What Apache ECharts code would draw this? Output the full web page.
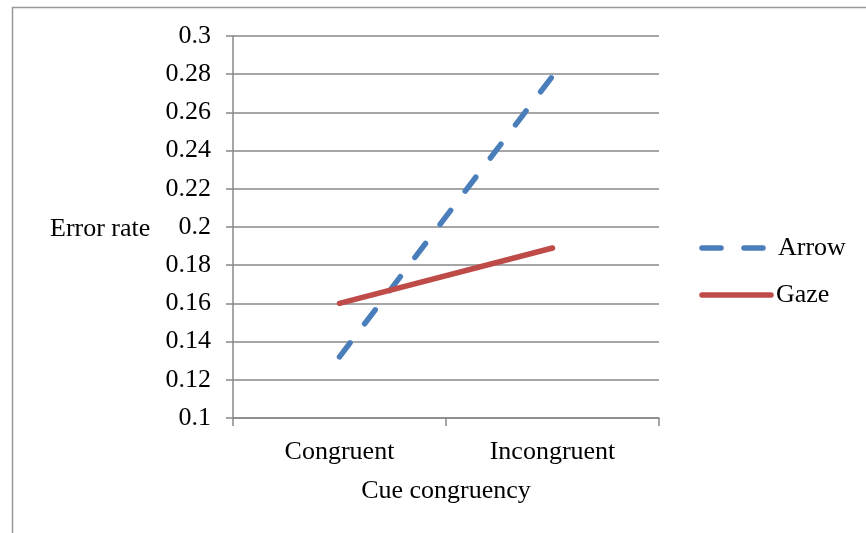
<!DOCTYPE html>
<html><head><meta charset="utf-8">
<script src="https://cdn.jsdelivr.net/npm/echarts@6/dist/echarts.min.js"></script>
<style>html,body{margin:0;padding:0;background:#fff}#c{width:866px;height:533px}</style>
</head><body><div id="c"></div>
<script>
const categories = ['Congruent', 'Incongruent'];
const seriesNames = ['Arrow', 'Gaze'];
const arrow = [0.132, 0.279];
const gaze = [0.16, 0.189];
const yTicks = [0.1, 0.3, 0.02];

const colors = ['#4a7ebb', '#be4b48'];
const chart = echarts.init(document.getElementById('c'));
const font = 'Liberation Serif';
const fs = 26;
chart.setOption({
  backgroundColor: '#fff',
  animation: false,
  textStyle: {fontFamily: font},
  graphic: [
    {type: 'polyline', shape: {points: [[12.5, 540], [12.5, 7.5], [870, 7.5]]},
     style: {stroke: '#999', lineWidth: 1.5, fill: null}, silent: true},
    {type: 'text', x: 50, y: 229, style: {text: 'Error rate', font: fs + 'px "Liberation Serif"', fill: '#000', verticalAlign: 'middle'}},
    {type: 'line', shape: {x1: 702, y1: 248, x2: 765, y2: 248},
     style: {stroke: colors[0], lineWidth: 5.5, lineDash: [19, 23], lineCap: 'round'}},
    {type: 'text', x: 778, y: 248, style: {text: seriesNames[0], font: fs + 'px "Liberation Serif"', fill: '#000', verticalAlign: 'middle'}},
    {type: 'line', shape: {x1: 702, y1: 295, x2: 771, y2: 295},
     style: {stroke: colors[1], lineWidth: 5.5, lineCap: 'round'}},
    {type: 'text', x: 776, y: 295, style: {text: seriesNames[1], font: fs + 'px "Liberation Serif"', fill: '#000', verticalAlign: 'middle'}}
  ],
  grid: {left: 233, right: 207, top: 36, bottom: 115},
  xAxis: {
    type: 'category', data: categories, boundaryGap: true,
    name: 'Cue congruency', nameLocation: 'middle', nameGap: 60,
    nameTextStyle: {fontFamily: font, fontSize: fs, color: '#000'},
    axisLine: {lineStyle: {color: '#888', width: 1.5}},
    axisTick: {show: true, alignWithLabel: false, length: 8, lineStyle: {color: '#888', width: 1.5}},
    axisLabel: {fontFamily: font, fontSize: fs, color: '#000', margin: 21}
  },
  yAxis: {
    type: 'value', min: yTicks[0], max: yTicks[1], interval: yTicks[2],
    axisLine: {show: true, lineStyle: {color: '#888', width: 1.5}},
    axisTick: {show: true, length: 7, lineStyle: {color: '#888', width: 1.5}},
    splitLine: {lineStyle: {color: '#888', width: 1.5}},
    axisLabel: {fontFamily: font, fontSize: fs, color: '#000', margin: 22,
      formatter: v => String(+v.toFixed(2))}
  },
  series: [
    {name: seriesNames[0], type: 'line', data: arrow, showSymbol: false, symbol: 'none',
     lineStyle: {color: colors[0], width: 5.5, type: [17.5, 24.1], cap: 'round'}},
    {name: seriesNames[1], type: 'line', data: gaze, showSymbol: false, symbol: 'none',
     lineStyle: {color: colors[1], width: 5.5, cap: 'round'}}
  ]
});
</script></body></html>
